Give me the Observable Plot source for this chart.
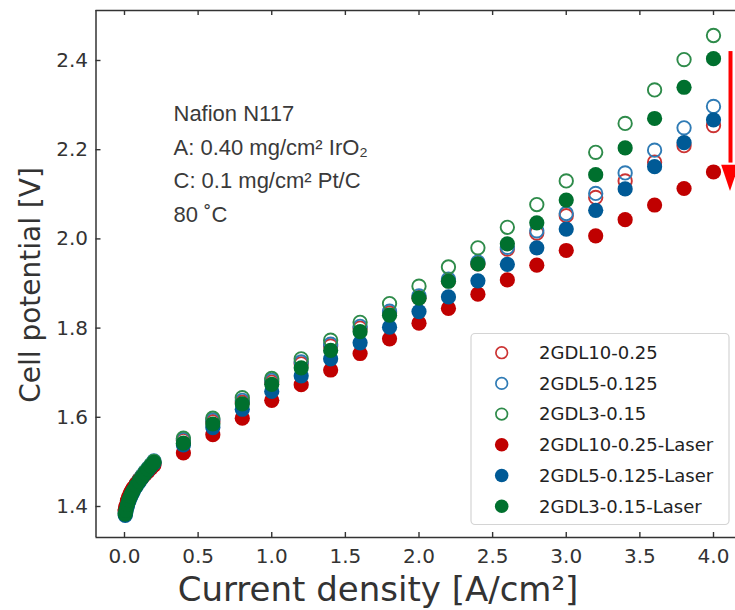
<!DOCTYPE html>
<html><head><meta charset="utf-8">
<script src="https://cdn.jsdelivr.net/npm/d3@7"></script>
<script src="https://cdn.jsdelivr.net/npm/@observablehq/plot@0.6"></script>
<style>body{margin:0;background:#fff;}</style>
</head><body><div id="chart"></div>
<script>
// ---- data ----
const currentDensity = [0.005,0.01,0.02,0.03,0.04,0.05,0.06,0.08,0.10,0.12,0.14,0.16,0.18,0.20,
  0.4,0.6,0.8,1.0,1.2,1.4,1.6,1.8,2.0,2.2,2.4,2.6,2.8,3.0,3.2,3.4,3.6,3.8,4.0];

const gdl10 = [1.390,1.399,1.411,1.420,1.428,1.435,1.441,1.451,1.460,1.468,1.476,1.484,1.491,1.498,
  1.548,1.590,1.634,1.679,1.720,1.760,1.800,1.834,1.868,1.906,1.944,1.977,2.013,2.052,2.093,2.130,2.172,2.209,2.254];
const gdl5 = [1.386,1.395,1.408,1.418,1.426,1.433,1.439,1.450,1.460,1.469,1.478,1.486,1.494,1.502,
  1.550,1.594,1.638,1.683,1.724,1.764,1.804,1.838,1.872,1.910,1.948,1.981,2.018,2.057,2.102,2.148,2.199,2.249,2.297];
const gdl3 = [1.385,1.394,1.407,1.417,1.425,1.432,1.438,1.449,1.459,1.468,1.477,1.485,1.493,1.501,
  1.553,1.598,1.644,1.687,1.731,1.773,1.813,1.855,1.894,1.937,1.980,2.026,2.077,2.130,2.194,2.259,2.334,2.402,2.456];
const gdl10Laser = [1.392,1.401,1.413,1.422,1.430,1.436,1.441,1.450,1.458,1.465,1.472,1.479,1.486,1.493,
  1.520,1.561,1.598,1.638,1.673,1.706,1.743,1.776,1.811,1.844,1.876,1.908,1.941,1.974,2.007,2.043,2.076,2.113,2.150];
const gdl5Laser = [1.380,1.388,1.401,1.411,1.420,1.427,1.434,1.445,1.455,1.465,1.474,1.482,1.490,1.497,
  1.538,1.577,1.618,1.658,1.693,1.731,1.767,1.802,1.837,1.870,1.906,1.943,1.980,2.022,2.064,2.112,2.162,2.216,2.267];
const gdl3Laser = [1.383,1.392,1.405,1.415,1.423,1.430,1.436,1.447,1.457,1.466,1.475,1.483,1.491,1.499,
  1.542,1.585,1.630,1.674,1.711,1.750,1.792,1.829,1.867,1.905,1.944,1.989,2.036,2.087,2.144,2.204,2.270,2.340,2.404];

const seriesNames = ["2GDL10-0.25","2GDL5-0.125","2GDL3-0.15","2GDL10-0.25-Laser","2GDL5-0.125-Laser","2GDL3-0.15-Laser"];
const seriesValues = [gdl10, gdl5, gdl3, gdl10Laser, gdl5Laser, gdl3Laser];
const seriesColors = ["#cc3333","#2f7bb5","#2e8b4a","#c00000","#005a96","#00702e"];
const seriesFilled = [false,false,false,true,true,true];

const xTicks = [0,0.5,1.0,1.5,2.0,2.5,3.0,3.5,4.0];
const yTicks = [1.4,1.6,1.8,2.0,2.2,2.4];
const xDomain = [-0.1935, 4.1494];
const yDomain = [1.3305, 2.5121];

const xLabel = "Current density [A/cm²]";
const yLabel = "Cell potential [V]";
const noteLines = ["Nafion N117","A: 0.40 mg/cm² IrO₂","C: 0.1 mg/cm² Pt/C","80 ˚C"];

// annotation arrow (data coords): x, shaft top, head base, tip, head half-width
const arrowX = [4.1155];
const arrowY = [2.42, 2.165, 2.106];
const arrowHalf = 0.06;

// ---- build ----
const W = 735, H = 610, mL = 95.5, mR = 0, mT = 10, mB = 73;
const innerW = W - mL - mR, innerH = H - mT - mB;
const axisColor = "#333";

const dotMarks = seriesValues.map((vals, i) => {
  const rows = currentDensity.map((x, j) => ({x, y: vals[j]}));
  return seriesFilled[i]
    ? Plot.dot(rows, {x: "x", y: "y", r: 7.6, fill: seriesColors[i], stroke: "none"})
    : Plot.dot(rows, {x: "x", y: "y", r: 6.7, fill: "none", stroke: seriesColors[i], strokeWidth: 1.9});
});

const ax = arrowX[0];
const headRows = [
  {x: ax - arrowHalf, y1: arrowY[1], y2: arrowY[1]},
  {x: ax, y1: arrowY[1], y2: arrowY[2]},
  {x: ax + arrowHalf, y1: arrowY[1], y2: arrowY[1]}
];

const svg = Plot.plot({
  width: W, height: H,
  marginLeft: mL, marginRight: mR, marginTop: mT, marginBottom: mB,
  style: {fontFamily: "DejaVu Sans", fontSize: "20px", color: axisColor, background: "white"},
  x: {domain: xDomain},
  y: {domain: yDomain},
  marks: [
    ...dotMarks,
    // frame (left, top, bottom)
    Plot.ruleX([xDomain[0]], {stroke: axisColor, strokeWidth: 1.5}),
    Plot.ruleY([yDomain[0], yDomain[1]], {stroke: axisColor, strokeWidth: 1.5}),
    // inward ticks
    Plot.tickX(xTicks, {x: d => d, insetTop: innerH - 5, stroke: axisColor, strokeWidth: 1.4}),
    Plot.tickX(xTicks, {x: d => d, insetBottom: innerH - 5, stroke: axisColor, strokeWidth: 1.4}),
    Plot.tickY(yTicks, {y: d => d, insetRight: innerW - 5, stroke: axisColor, strokeWidth: 1.4}),
    Plot.axisX({ticks: xTicks, tickSize: 0, tickPadding: 11, tickFormat: d3.format(".1f"), label: null, fontSize: 20}),
    Plot.axisY({ticks: yTicks, tickSize: 0, tickPadding: 8, tickFormat: d3.format(".1f"), label: null, fontSize: 20}),
    Plot.text([xLabel], {frameAnchor: "bottom-left", dx: 282, dy: 53, textAnchor: "middle", lineAnchor: "middle", fontSize: 34, fill: axisColor}),
    Plot.text([yLabel], {frameAnchor: "left", rotate: -90, dx: -65, dy: 11, textAnchor: "middle", lineAnchor: "middle", fontSize: 28, fill: axisColor}),
    Plot.text([noteLines.join("\n")], {frameAnchor: "top-left", dx: 77.5, dy: 87, textAnchor: "start", lineAnchor: "top", lineHeight: 1.52, fontSize: 22, fontFamily: "Liberation Sans", fill: "#3a3a3a"}),
    // red arrow
    Plot.ruleX(arrowX, {x: d => d, y1: arrowY[0], y2: arrowY[1] + 0.005, stroke: "#ff0000", strokeWidth: 4}),
    Plot.areaY(headRows, {x: "x", y1: "y1", y2: "y2", fill: "#ff0000"})
  ]
});

// legend
const lg = d3.select(svg).append("g").attr("text-anchor", "start");
lg.append("rect").attr("x", 471).attr("y", 333.5).attr("width", 258).attr("height", 191)
  .attr("rx", 4).attr("fill", "white").attr("fill-opacity", 0.85).attr("stroke", "#d4d4d4").attr("stroke-width", 1.2);
seriesNames.forEach((name, i) => {
  const cy = 352.7 + i * 30.7;
  const c = lg.append("circle").attr("cx", 501.7).attr("cy", cy);
  if (seriesFilled[i]) c.attr("r", 6.8).attr("fill", seriesColors[i]);
  else c.attr("r", 5.8).attr("fill", "none").attr("stroke", seriesColors[i]).attr("stroke-width", 1.7);
  lg.append("text").attr("x", 539).attr("y", cy).attr("dy", "0.35em").attr("text-anchor", "start")
    .attr("font-family", "DejaVu Sans").attr("font-size", 18).attr("fill", "#222").text(name);
});

document.getElementById("chart").appendChild(svg);
</script>
</body></html>
